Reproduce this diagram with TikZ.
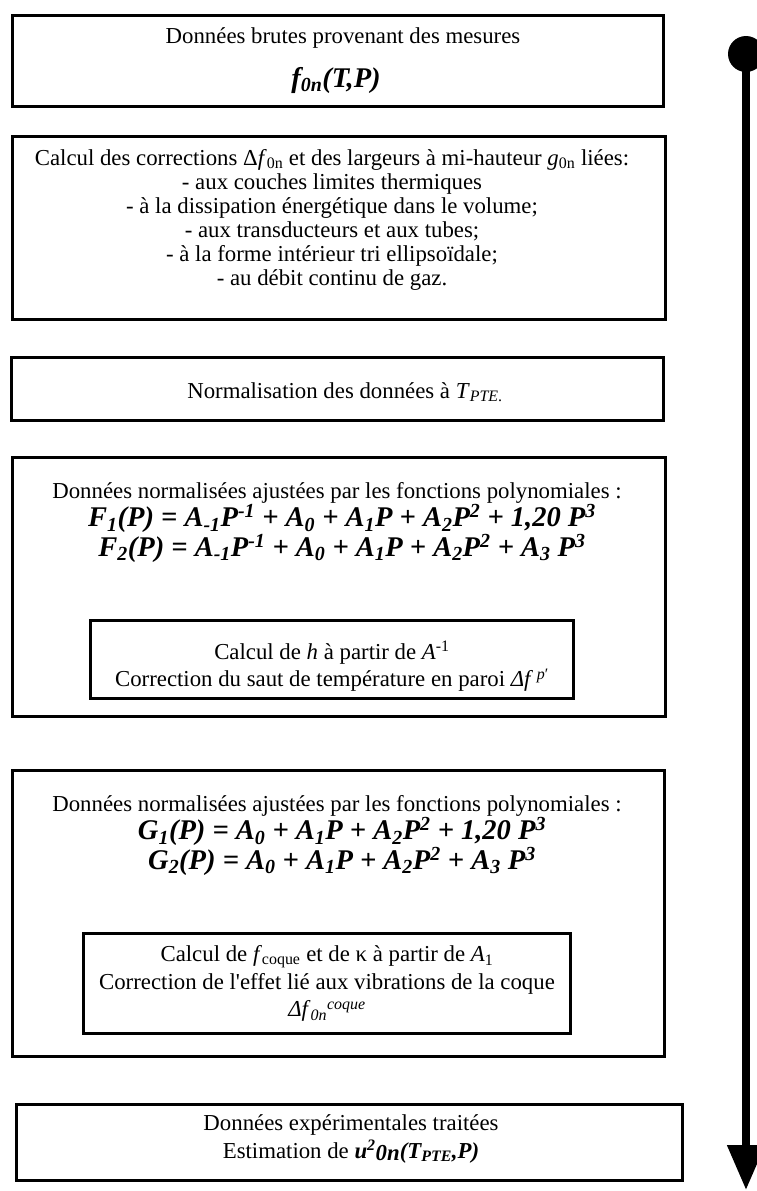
\documentclass[tikz,border=0pt]{standalone}
\usepackage{fontspec}
\setmainfont{Liberation Serif}
\usetikzlibrary{arrows.meta}

\newcommand\indice[1]{\textsubscript{#1}}
\newcommand\expo[1]{\textsuperscript{#1}}
\newcommand\grasit[1]{\textbf{\textit{#1}}}

\tikzset{
  etape/.style={draw, line width=3pt, inner sep=0pt},
  texte/.style={align=center, inner sep=0pt, font=\fontsize{22.8}{24}\selectfont},
  sousTexte/.style={texte, font=\fontsize{22.8}{27.5}\selectfont},
  formule/.style={align=center, inner sep=0pt, font=\fontsize{28.5}{27}\selectfont\bfseries\itshape},
}

\begin{document}
\begin{tikzpicture}[x=1pt,y=-1pt]
\useasboundingbox (0,0) rectangle (757,1191);

% cadres
\node[etape, minimum width=651pt, minimum height=91pt] (brut) at (338,61) {};
\node[etape, minimum width=653pt, minimum height=183pt] (corr) at (339,228) {};
\node[etape, minimum width=652pt, minimum height=63pt] (norm) at (337.5,389) {};
\node[etape, minimum width=653pt, minimum height=259pt] (ajustF) at (339,587) {};
\node[etape, minimum width=483pt, minimum height=78pt] (calcH) at (332,659.5) {};
\node[etape, minimum width=652pt, minimum height=286pt] (ajustG) at (338.5,913.5) {};
\node[etape, minimum width=487pt, minimum height=100pt] (calcK) at (327,983.5) {};
\node[etape, minimum width=666pt, minimum height=76pt] (final) at (349.5,1142.5) {};

% textes
\node[texte] (brutT) at (343,38) {Données brutes provenant des mesures};
\node[formule] (brutF) at (336,80) {f\indice{0n}(T,P)};

\node[texte] (corrT) at (332,219.5) {Calcul des corrections Δ\textit{f}\indice{0n} et des largeurs à mi-hauteur \textit{g}\indice{0n} liées:\\
- aux couches limites thermiques\\
- à la dissipation énergétique dans le volume;\\
- aux transducteurs et aux tubes;\\
- à la forme intérieur tri ellipsoïdale;\\
- au débit continu de gaz.};

\node[texte] (normT) at (345,392) {Normalisation des données à \textit{T}\indice{\textit{PTE}.}};

\node[texte] (ajustFT) at (337,493) {Données normalisées ajustées par les fonctions polynomiales :};
\node[formule] (polyF) at (342,533.5) {F\indice{1}(P) = A\indice{-1}P\expo{-1} + A\indice{0} + A\indice{1}P + A\indice{2}P\expo{2} + 1,20 P\expo{3}\\
F\indice{2}(P) = A\indice{-1}P\expo{-1} + A\indice{0} + A\indice{1}P + A\indice{2}P\expo{2} + A\indice{3} P\expo{3}};
\node[sousTexte] (calcHT) at (332,666.5) {Calcul de \textit{h} à partir de \textit{A}\expo{-1}\\
Correction du saut de température en paroi \textit{Δf}\,\expo{\textit{p}′}};

\node[texte] (ajustGT) at (337,806) {Données normalisées ajustées par les fonctions polynomiales :};
\node[formule] (polyG) at (342,846.5) {G\indice{1}(P) = A\indice{0} + A\indice{1}P + A\indice{2}P\expo{2} + 1,20 P\expo{3}\\
G\indice{2}(P) = A\indice{0} + A\indice{1}P + A\indice{2}P\expo{2} + A\indice{3} P\expo{3}};
\node[sousTexte] (calcKT) at (327,983.5) {Calcul de \textit{f}\indice{coque} et de κ à partir de \textit{A}\indice{1}\\
Correction de l\textquotesingle effet lié aux vibrations de la coque\\
\textit{Δf}\indice{\textit{0n}}\expo{\textit{coque}}};

\node[sousTexte] (finalT) at (351,1139) {Données expérimentales traitées\\
Estimation de \grasit{u\expo{2}\raisebox{-2pt}{0n}(T\indice{PTE},P)}};

% fleche du traitement
\node[circle, fill, minimum size=36pt, inner sep=0pt] (depart) at (746,54) {};
\coordinate (fin) at (746,1190);
\draw[line width=8pt, -{Triangle[length=45pt,width=36pt]}] (depart.center) -- (fin);
\end{tikzpicture}
\end{document}
